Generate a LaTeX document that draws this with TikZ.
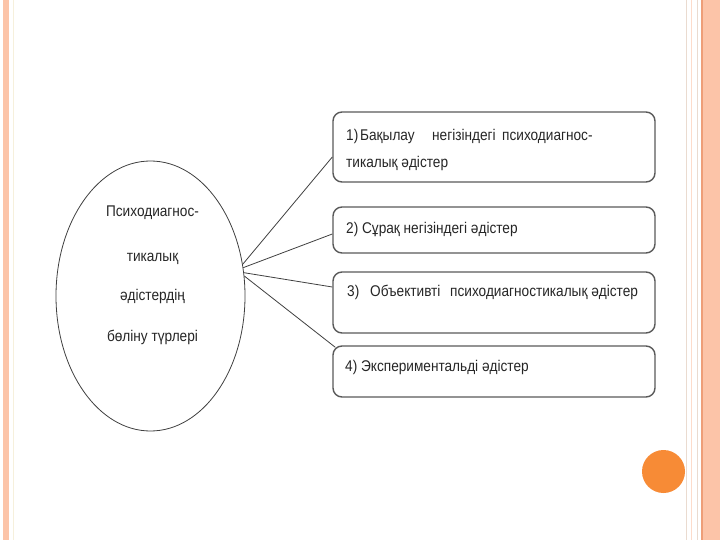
\documentclass[tikz,border=0pt]{standalone}
\usepackage{fontspec}
\setmainfont{Liberation Sans}[FakeStretch=0.88]
\usetikzlibrary{shapes.geometric}
\definecolor{stripe}{HTML}{FCC4A8}
\definecolor{stripedark}{HTML}{EE9E78}
\definecolor{paleline}{HTML}{EADBD0}
\definecolor{paleyellow}{HTML}{F6F0DC}
\definecolor{dot}{HTML}{F78B36}
\definecolor{boxline}{HTML}{5A5A5A}
\begin{document}
\begin{tikzpicture}[x=1pt,y=-1pt,
  txt/.style={inner sep=0pt,font=\fontsize{15.5pt}{18pt}\selectfont,text=black!85},
  methodbox/.style={draw=boxline,line width=1.4pt,rounded corners=9pt,fill=white,minimum width=322pt,inner sep=0pt},
  link/.style={draw=black!75,line width=0.8pt}]
\useasboundingbox (0,0) rectangle (720,540);
\fill[white] (0,0) rectangle (720,540);
% left border
\fill[stripe] (3,0) rectangle (9,540);
\draw[paleyellow,line width=0.8pt] (13,0) -- (13,540);
% right border
\fill[stripe] (703,0) rectangle (720,540);
\draw[stripedark,line width=1.2pt] (702,0) -- (702,540);
\draw[paleline,line width=0.8pt] (686,0) -- (686,540);
\draw[paleline,line width=0.8pt] (697,0) -- (697,540);
\draw[stripe!60!white,line width=0.6pt] (691,0) -- (691,540);
% dot
\fill[dot] (663.5,471.5) circle (21.5);
% ellipse
\node[ellipse,draw=black!75,line width=0.8pt,minimum width=189pt,minimum height=270pt,inner sep=0pt] (ell) at (150.5,296) {};
\node[txt,anchor=base] (e1) at (152.5,217) {Психодиагнос-};
\node[txt,anchor=base] (e2) at (152.5,261) {тикалық};
\node[txt,anchor=base] (e3) at (152.5,300) {әдістердің};
\node[txt,anchor=base] (e4) at (152.5,341) {бөліну түрлері};
% boxes
\node[methodbox,minimum height=70pt] (b1) at (494,147) {};
\node[methodbox,minimum height=46pt] (b2) at (494,230) {};
\node[methodbox,minimum height=61pt] (b3) at (494,302.5) {};
\node[methodbox,minimum height=51pt] (b4) at (494,371.5) {};
% box texts
\node[txt,anchor=base west] (t1a) at (346,141) {\makebox[14pt][l]{1)}\makebox[72pt][l]{Бақылау}\makebox[70pt][l]{негізіндегі}психодиагнос-};
\node[txt,anchor=base west] (t1b) at (346,168) {тикалық әдістер};
\node[txt,anchor=base west] (t2) at (346,233.5) {2) Сұрақ негізіндегі әдістер};
\node[txt,anchor=base west] (t3) at (347,296) {\makebox[23pt][l]{3)}\makebox[80pt][l]{Объективті}психодиагностикалық әдістер};
\node[txt,anchor=base west] (t4) at (345,371) {4) Экспериментальді әдістер};
% connectors
\draw[link] (ell.19) -- ([yshift=-10pt]b1.west);
\draw[link] (ell.17) -- ([yshift=-4pt]b2.west);
\draw[link] (ell.14.5) -- ([yshift=15.5pt]b3.west);
\draw[link] (ell.12.5) -- ([xshift=3pt,yshift=-2pt]b4.north west);
\end{tikzpicture}
\end{document}
